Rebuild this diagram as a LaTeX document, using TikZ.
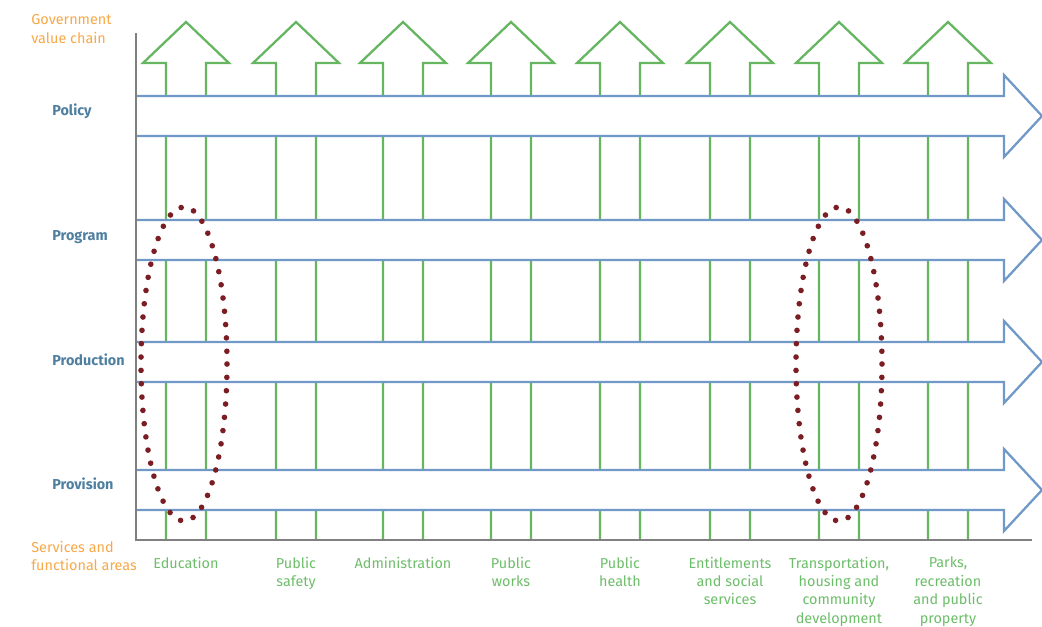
\documentclass[tikz,border=0pt]{standalone}
\usepackage{fontspec}
\setmainfont{Fira Sans}
\usepackage{xcolor}
\usepackage{tikz}
\usetikzlibrary{positioning, calc}

\definecolor{chainorange}{HTML}{F7A848}
\definecolor{levelblue}{HTML}{4F7FA0}
\definecolor{lineblue}{HTML}{7099C8}
\definecolor{linegreen}{HTML}{66B661}
\definecolor{areagreen}{HTML}{6DBE6A}
\definecolor{axisgray}{HTML}{808080}
\definecolor{dotred}{HTML}{7B1E24}

\newcommand{\chartfont}{\fontsize{8.2}{10.5}\selectfont}

\tikzset{
  uparrow/.style={draw=linegreen, line width=1.3pt},
  band/.style={draw=lineblue, line width=1.3pt, fill=white},
  axisline/.style={draw=axisgray, line width=1.5pt},
  dotring/.style={draw=dotred, line width=3.2pt, line cap=round, dash pattern=on 0pt off 7.6pt},
  levellabel/.style={text=levelblue, font=\chartfont\bfseries, anchor=west, inner sep=0pt},
  sidelabel/.style={text=chainorange, font=\chartfont, align=left, anchor=west, inner sep=0pt},
  arealabel/.style={text=areagreen, font=\chartfont, align=center, anchor=north, inner sep=0pt}
}

\begin{document}
\begin{tikzpicture}[x=0.02cm, y=-0.02cm]
  \useasboundingbox (0,0) rectangle (1042,626);

  \foreach \c/\tag/\txt in {186/edu/Education, 296/safe/{Public\\safety}, 403/adm/Administration,
      511/works/{Public\\works}, 620/health/{Public\\health}, 730/ent/{Entitlements\\and social\\services},
      839/trans/{Transportation,\\housing and\\community\\development}, 948/parks/{Parks,\\recreation\\and public\\property}}
  {
    \draw[uparrow] (\c-20,540) -- (\c-20,63) -- (\c-43,63) -- (\c,22) -- (\c+43,63) -- (\c+20,63) -- (\c+20,540);
    \node[arealabel] (lbl-\tag) at (\c,556.5) {\txt};
  }

  \foreach \y/\ly/\tag/\txt in {116/111/policy/Policy, 240/237/program/Program, 362/360/production/Production, 490/484/provision/Provision}
  {
    \draw[band] (136,\y-20) -- (1004,\y-20) -- (1004,\y-41) -- (1042,\y) -- (1004,\y+41) -- (1004,\y+20) -- (136,\y+20);
    \node[levellabel] (lvl-\tag) at (52,\ly) {\txt};
  }

  \draw[axisline] (136,33) -- (136,540) -- (1032,540);

  \node[sidelabel] (chain) at (31,29) {Government\\value chain};
  \node[sidelabel] (areas) at (31,556) {Services and\\functional areas};

  \coordinate (ring-edu) at (184,364);
  \coordinate (ring-trans) at (839,364);
  \draw[dotring] (ring-edu) ellipse [x radius=43, y radius=157];
  \draw[dotring] (ring-trans) ellipse [x radius=43, y radius=157];
\end{tikzpicture}
\end{document}
